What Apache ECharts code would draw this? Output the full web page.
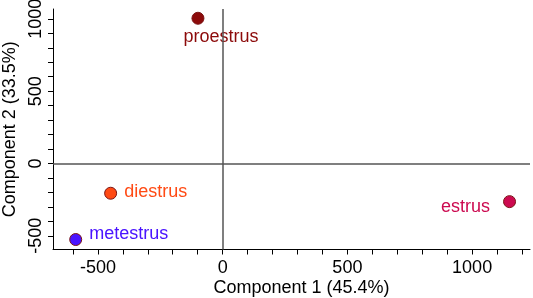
<!DOCTYPE html>
<html>
<head>
<meta charset="utf-8">
<script src="https://cdn.jsdelivr.net/npm/echarts@6/dist/echarts.min.js"></script>
<style>
  html, body { margin: 0; padding: 0; background: #fff; }
  #chart { width: 533px; height: 298px; }
</style>
</head>
<body>
<div id="chart"></div>
<script>
// PCA scores, one point per stage
var stageNames = ['proestrus', 'diestrus', 'metestrus', 'estrus'];
var comp1 = [-99, -449, -589, 1150];
var comp2 = [1004, -206, -526, -264];
var stageColors = ['#8c0a0a', '#ff4a14', '#4a14ff', '#cc0a50'];

var xTicks = [-600, -500, -400, -300, -200, -100, 0, 100, 200, 300, 400, 500, 600, 700, 800, 900, 1000, 1100, 1200];
var xLabels = [-500, 0, 500, 1000];
var yTicks = [-500, -400, -300, -200, -100, 0, 100, 200, 300, 400, 500, 600, 700, 800, 900, 1000];
var yLabels = [-500, 0, 500, 1000];

var labelPlace = [
    {position: 'bottom', distance: 3, offset: [23, 0]},
    {position: 'right', distance: 7, offset: [0, -1]},
    {position: 'right', distance: 7, offset: [0, -5]},
    {position: 'left', distance: 13, offset: [0, 5]}
];

var font = 'Liberation Sans, Arial, sans-serif';

var points = [];
for (var i = 0; i < stageNames.length; i++) {
    points.push({
        name: stageNames[i],
        value: [comp1[i], comp2[i]],
        itemStyle: {color: stageColors[i], borderColor: '#7a1414', borderWidth: 1, opacity: 1},
        label: {
            show: true,
            formatter: '{b}',
            position: labelPlace[i].position,
            distance: labelPlace[i].distance,
            offset: labelPlace[i].offset,
            color: stageColors[i],
            fontSize: 18,
            fontFamily: font
        }
    });
}

function plainNum(v) {
    return String(v);
}

var myChart = echarts.init(document.getElementById('chart'));

var option = {
    animation: false,
    grid: {left: 53, right: 3, top: 9, bottom: 48.5, containLabel: false, outerBoundsMode: 'none'},
    xAxis: {
        type: 'value',
        min: -680,
        max: 1232,
        name: 'Component 1 (45.4%)',
        nameLocation: 'middle',
        nameGap: 30,
        nameMoveOverlap: false,
        nameTextStyle: {fontSize: 18, fontFamily: font, color: '#000', padding: [0, 0, 0, 20]},
        splitLine: {show: false},
        axisLine: {show: true, onZero: false, lineStyle: {color: '#000', width: 1}},
        axisTick: {show: true, customValues: xTicks, length: 5, lineStyle: {color: '#000'}},
        axisLabel: {customValues: xLabels, formatter: plainNum, fontSize: 18, fontFamily: font, color: '#000', margin: 10}
    },
    yAxis: {
        type: 'value',
        min: -595,
        max: 1068,
        name: 'Component 2 (33.5%)',
        nameLocation: 'middle',
        nameGap: 34,
        nameMoveOverlap: false,
        nameTextStyle: {fontSize: 18, fontFamily: font, color: '#000'},
        splitLine: {show: false},
        axisLine: {show: true, onZero: false, lineStyle: {color: '#000', width: 1}},
        axisTick: {show: true, customValues: yTicks, length: 5, lineStyle: {color: '#000'}},
        axisLabel: {customValues: yLabels, formatter: plainNum, rotate: 90, fontSize: 18, fontFamily: font, color: '#000', margin: 8}
    },
    series: [
        {
            type: 'scatter',
            symbolSize: 12,
            data: points,
            z: 3,
            markLine: {
                silent: true,
                symbol: ['none', 'none'],
                label: {show: false},
                lineStyle: {color: '#555', width: 1.5, type: 'solid'},
                data: [{xAxis: 0}, {yAxis: 0}]
            }
        }
    ]
};

myChart.setOption(option);
</script>
</body>
</html>
